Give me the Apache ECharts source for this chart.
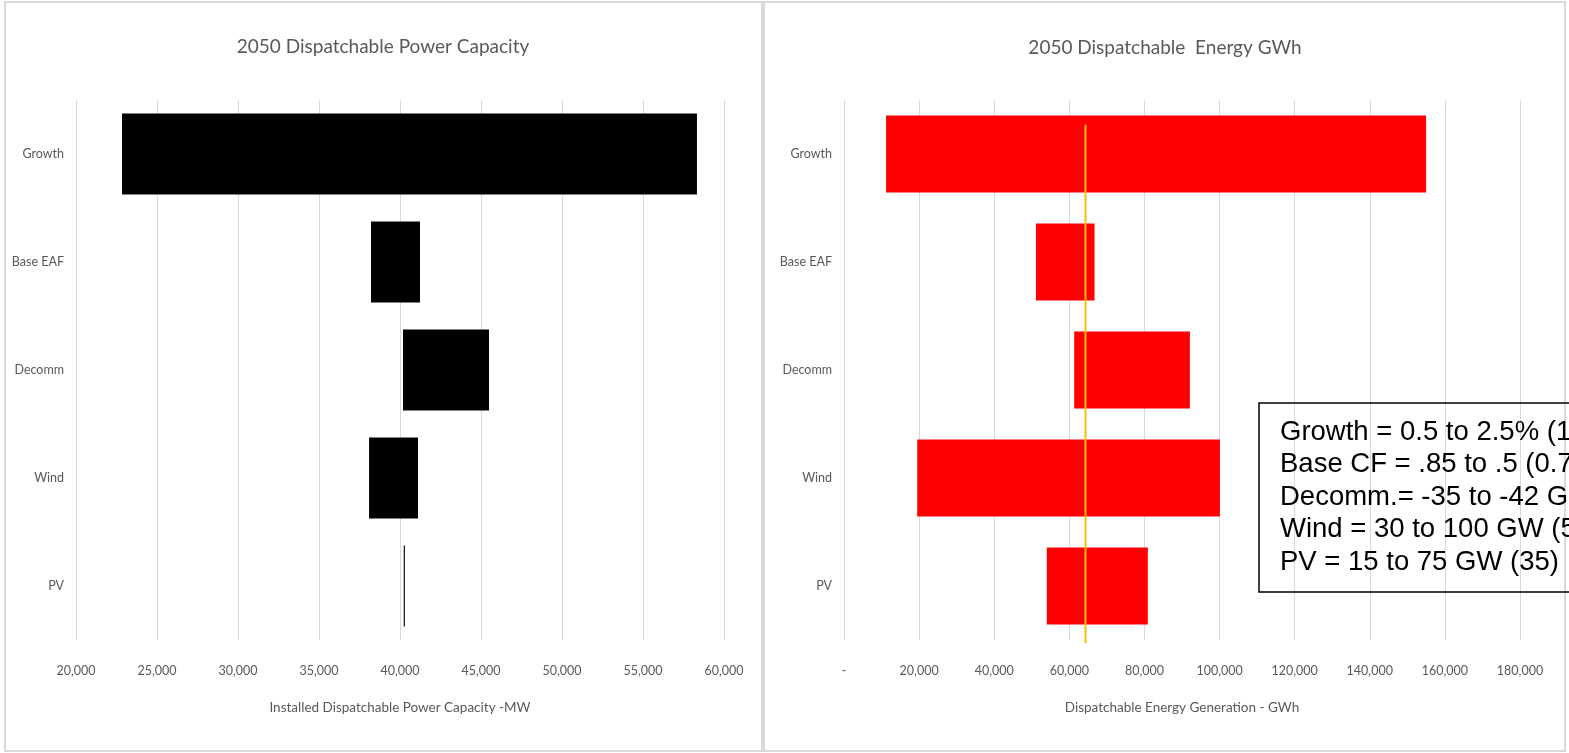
<!DOCTYPE html>
<html><head><meta charset="utf-8">
<script src="https://cdn.jsdelivr.net/npm/echarts@6/dist/echarts.min.js"></script>
<style>html,body{margin:0;padding:0;background:#fff;overflow:hidden}#c{width:1569px;height:753px}</style>
</head><body><div id="c"></div>
<script>
// ---- data ----
const categories = ['Growth', 'Base EAF', 'Decomm', 'Wind', 'PV'];
const capacityLow  = [22840, 38210, 40185, 38090, 40230];
const capacityHigh = [58330, 41235, 45495, 41110, 40300];
const energyLow    = [11200, 51100, 61300, 19500, 54000];
const energyHigh   = [155000, 66700, 92100, 100100, 80900];
const energyReference = 64300;
const capacityAxis = { min: 20000, max: 60000, interval: 5000 };
const energyAxis   = { min: 0, max: 180000, interval: 20000 };
const titles = ['2050 Dispatchable Power Capacity', '2050 Dispatchable  Energy GWh'];
const axisNames = ['Installed Dispatchable Power Capacity -MW', 'Dispatchable Energy Generation - GWh'];
const noteLines = [
  'Growth = 0.5 to 2.5% (1',
  'Base CF = .85 to .5 (0.7',
  'Decomm.= -35 to -42 G',
  'Wind = 30 to 100 GW (5',
  'PV = 15 to 75 GW (35)'
];

const FONT = 'Lato, "Open Sans", sans-serif';
const GREY = '#595959';
const GRID = '#d9d9d9';

const capacitySpan = capacityHigh.map((h, i) => h - capacityLow[i]);
const energySpan = energyHigh.map((h, i) => h - energyLow[i]);

function fmt(v) { return v === 0 ? '-' : v.toLocaleString('en-US'); }

function xAx(gi, ax, name) {
  return {
    type: 'value', gridIndex: gi, min: ax.min, max: ax.max, interval: ax.interval,
    axisLine: { show: false }, axisTick: { show: false },
    splitLine: { show: true, lineStyle: { color: GRID, width: 1 } },
    axisLabel: { color: GREY, fontFamily: FONT, fontSize: 12.5, margin: 24, formatter: fmt },
    name: name, nameLocation: 'middle', nameGap: 61,
    nameTextStyle: { color: GREY, fontFamily: FONT, fontSize: 13.5 }
  };
}
function yAx(gi) {
  return {
    type: 'category', gridIndex: gi, data: categories, inverse: true,
    axisLine: { show: false }, axisTick: { show: false }, splitLine: { show: false },
    axisLabel: { color: GREY, fontFamily: FONT, fontSize: 12.5, margin: 12 }
  };
}

const graphics = [
  { type: 'rect', z: 0, shape: { x: 5, y: 2, width: 757, height: 749 }, style: { fill: 'none', stroke: GRID, lineWidth: 2 } },
  { type: 'rect', z: 0, shape: { x: 764, y: 2, width: 801, height: 749 }, style: { fill: 'none', stroke: GRID, lineWidth: 2 } },
  { type: 'text', x: 383, y: 47, style: { text: titles[0], textAlign: 'center', textVerticalAlign: 'middle', font: '19px ' + FONT, fill: GREY } },
  { type: 'text', x: 1165, y: 48, style: { text: titles[1], textAlign: 'center', textVerticalAlign: 'middle', font: '19px ' + FONT, fill: GREY } },
  { type: 'rect', z: 50, shape: { x: 1259, y: 403, width: 400, height: 189 }, style: { fill: 'none', stroke: '#000', lineWidth: 1.5 } }
];
noteLines.forEach((t, i) => {
  graphics.push({ type: 'text', z: 51, x: 1280, y: 432 + i * 32.5,
    style: { text: t, textVerticalAlign: 'middle', font: '27.5px "Liberation Sans", Arial, sans-serif', fill: '#000' } });
});

const chart = echarts.init(document.getElementById('c'), null, { renderer: 'canvas' });
chart.setOption({
  animation: false,
  backgroundColor: '#fff',
  grid: [
    { left: 76, top: 100, width: 648, height: 540, containLabel: false, outerBoundsMode: 'none' },
    { left: 844, top: 100, width: 676, height: 540, containLabel: false, outerBoundsMode: 'none' }
  ],
  xAxis: [xAx(0, capacityAxis, axisNames[0]), xAx(1, energyAxis, axisNames[1])],
  yAxis: [yAx(0), yAx(1),
    { type: 'value', gridIndex: 1, min: 0, max: 5, inverse: true, show: false, splitLine: { show: false } }],
  series: [
    { type: 'bar', xAxisIndex: 0, yAxisIndex: 0, stack: 'cap', data: capacityLow, barWidth: 81,
      itemStyle: { color: 'rgba(0,0,0,0)' }, silent: true },
    { type: 'bar', xAxisIndex: 0, yAxisIndex: 0, stack: 'cap', data: capacitySpan, barWidth: 81,
      itemStyle: { color: '#000' } },
    { type: 'bar', xAxisIndex: 1, yAxisIndex: 1, stack: 'en', data: energyLow, barWidth: 77,
      itemStyle: { color: 'rgba(0,0,0,0)' }, silent: true },
    { type: 'bar', xAxisIndex: 1, yAxisIndex: 1, stack: 'en', data: energySpan, barWidth: 77,
      itemStyle: { color: '#ff0000' } },
    { type: 'line', xAxisIndex: 1, yAxisIndex: 2, clip: false, symbol: 'none', z: 10,
      data: [[energyReference, 0.23], [energyReference, 5.03]],
      lineStyle: { color: '#ffc000', width: 2 } }
  ],
  graphic: graphics
});
</script></body></html>
